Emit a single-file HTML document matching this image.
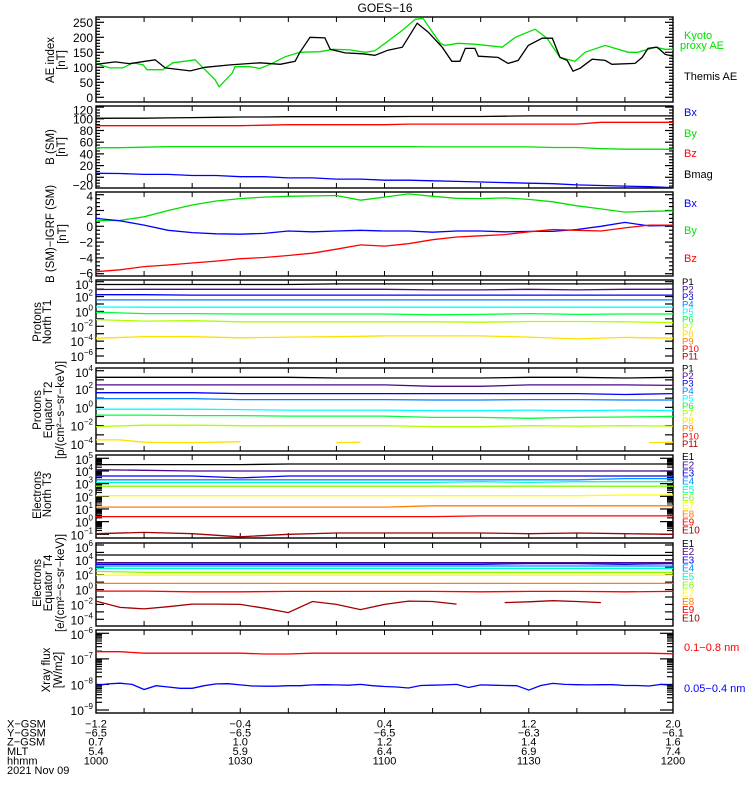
<!DOCTYPE html>
<html><head><meta charset="utf-8"><title>GOES-16</title>
<style>
html,body{margin:0;padding:0;background:#fff;}
svg{display:block;font-family:"Liberation Sans",sans-serif;}
</style></head>
<body>
<svg id="chart" xmlns="http://www.w3.org/2000/svg" width="750" height="800" viewBox="0 0 750 800">
<rect x="0" y="0" width="750" height="800" fill="#fff"/>
<text x="385" y="12" font-size="12" text-anchor="middle">GOES−16</text>
</svg>
<script>
// ---------- DATA ----------
const xTickLabelsX = ["-1.2","-0.4","0.4","1.2","2.0"];
const xTickLabelsY = ["-6.5","-6.5","-6.5","-6.3","-6.1"];
const xTickLabelsZ = ["0.7","1.0","1.2","1.4","1.6"];
const xTickLabelsMLT = ["5.4","5.9","6.4","6.9","7.4"];
const xTickLabelsHHMM = ["1000","1030","1100","1130","1200"];

// Panel 1: AE index (times in minutes after 10:00)
const themisT = [0,4,7,10.2,12.3,14.4,19.6,22.7,27.9,34.1,38.3,41.4,42.4,44.5,47.6,48.7,51.8,55.5,58,60.7,63.7,66.8,69.1,72,74,75.7,76.8,78.8,79.5,83.6,85.7,87.8,89.9,92.8,94.9,96.5,98,99.2,100.7,103.2,105.9,107.3,112.1,113.6,114.8,116.7,118.4,120];
const themisAE = [110,118,112,120,125,98,88,100,108,115,110,120,150,200,198,160,148,145,140,157,167,247,217,167,120,120,163,163,137,133,113,123,173,197,197,133,123,87,97,127,123,110,113,133,163,167,143,137];
const kyotoT = [0,0.8,2.9,5.6,7.7,9.8,10.6,13.9,16,20.6,23.3,24.8,25.6,28.3,28.9,32,34.1,36.2,39.3,42.4,46.6,49.3,52.8,56,58,63.7,66.4,68,71.6,72.6,75.3,78.8,84.5,87.2,91.3,93.8,96.5,99.6,101.7,105.9,110.7,112.7,116.3,118.4,120];
const kyotoAE = [115,108,98,98,115,108,92,92,115,125,82,58,35,80,102,102,96,110,135,150,152,160,158,150,155,223,260,263,180,173,180,177,167,200,227,197,133,120,150,173,150,150,167,160,160];
const aeTicks = [0,50,100,150,200,250];

// Panel 2: B (SM), every 5 min
const bmagSM = [100.9,101,101,101.5,102,102.5,103,103,103.6,103.6,103.6,103.6,103.6,104,104,104,104,104.5,105,105,105,105,105,105,105];
const bzSM = [88.2,88.2,88.2,88.2,88.2,88.2,88.2,89,90,90,90,90,90,91,91,91,91,91,91,91,91,94,94,94,94];
const bySM = [50.6,50.6,51.5,52.5,52.5,52.5,52.5,52.5,52.5,52.5,52.5,52.5,52.5,52.5,52,52,52,52,52,51,51,49,48,48,47.9];
const bxSM = [6.8,6.5,5,5,3,3,1,1,-1,-1,-3,-3,-5,-5,-6,-7,-8,-9,-10,-11,-13,-14,-15,-16,-17.8];
const bTicks = [-20,0,20,40,60,80,100,120];

// Panel 3: B(SM)-IGRF, every 5 min
const dBx = [1.0,0.7,0.15,-0.5,-0.8,-0.95,-1.0,-0.9,-0.6,-0.7,-0.6,-0.5,-0.6,-0.6,-0.75,-0.6,-0.6,-0.7,-0.65,-0.65,-0.4,0,0.5,0.05,0.1];
const dBy = [0.7,0.75,1.2,2.0,2.7,3.2,3.5,3.7,3.8,3.85,3.9,3.3,3.7,4.1,3.8,3.55,3.5,3.6,3.4,3.1,2.6,2.2,1.8,1.9,1.95];
const dBz = [-5.75,-5.5,-5.1,-4.9,-4.65,-4.4,-4.1,-3.95,-3.7,-3.4,-2.9,-2.35,-2.5,-2.2,-1.7,-1.35,-1.2,-1.05,-0.7,-0.4,-0.5,-0.6,-0.2,0.15,0.15];
const dBTicks = [-6,-4,-2,0,2,4];

// Panel 4: Protons North T1 (log10 flux, every 10 min)
const pN1 = [3.62,3.62,3.62,3.62,3.62,3.7,3.7,3.7,3.7,3.7,3.7,3.7,3.7];
const pN2 = [2.95,2.98,2.98,2.98,2.98,2.98,2.98,2.9,2.9,2.98,2.9,2.98,2.98];
const pN3 = [2.25,2.25,2.2,2.2,2.2,2.2,2.2,2.2,2.2,2.2,2.2,2.2,2.2];
const pN4 = [1.55,1.55,1.55,1.55,1.55,1.55,1.55,1.55,1.55,1.55,1.55,1.55,1.55];
const pN5 = [0.6,0.57,0.57,0.57,0.57,0.57,0.57,0.57,0.57,0.57,0.57,0.57,0.57];
const pN6 = [-0.1,-0.3,-0.3,-0.35,-0.35,-0.35,-0.35,-0.45,-0.4,-0.3,-0.4,-0.35,-0.35];
const pN7 = [-1.1,-1.3,-1.25,-1.4,-1.4,-1.4,-1.4,-1.4,-1.45,-1.35,-1.35,-1.4,-1.5];
const pN8 = [-3.6,-3.4,-3.4,-3.55,-3.45,-3.4,-3.3,-3.3,-3.3,-3.45,-3.7,-3.5,-3.6];
const pNTicks = [4,2,0,-2,-4,-6];

// Panel 5: Protons Equator T2
const pE1 = [3.28,3.28,3.28,3.28,3.28,3.2,3.2,3.2,3.2,3.28,3.28,3.2,3.28];
const pE2 = [2.45,2.45,2.45,2.45,2.45,2.45,2.45,2.3,2.3,2.45,2.45,2.45,2.4];
const pE3 = [1.6,1.6,1.6,1.5,1.5,1.5,1.5,1.5,1.5,1.5,1.5,1.4,1.5];
const pE4 = [0.95,0.95,0.95,0.85,0.85,0.85,0.85,0.8,0.8,0.85,0.85,0.8,0.8];
const pE5 = [-0.2,-0.2,-0.2,-0.25,-0.3,-0.3,-0.3,-0.35,-0.35,-0.3,-0.35,-0.3,-0.35];
const pE6 = [-0.85,-0.85,-0.9,-0.9,-0.95,-0.95,-0.95,-1.1,-1.1,-1.2,-1.1,-1.05,-1.0];
const pE7 = [-2.1,-1.95,-1.95,-2.0,-2.0,-2.0,-2.0,-2.1,-2.1,-2.0,-2.05,-2.0,-2.05];
const pE8 = [-3.55,-3.55,-3.8,-3.85,-3.85,-3.8,-3.75,null,null,null,-3.85,-3.8,null,null,null,null,null,null,null,null,null,null,null,-3.85,-3.8];
const pETicks = [4,2,0,-2,-4];

// Panel 6: Electrons North T3
const eN1 = [4.5,4.5,4.5,4.5,4.55,4.55,4.55,4.55,4.55,4.55,4.55,4.55,4.55];
const eN2 = [4.1,4.05,4.0,4.0,4.0,4.0,4.0,4.0,4.0,4.0,4.0,4.0,4.0];
const eN3 = [3.6,3.6,3.6,3.45,3.6,3.6,3.6,3.6,3.6,3.6,3.6,3.6,3.6];
const eN4 = [3.3,3.3,3.3,3.3,3.3,3.3,3.3,3.3,3.3,3.3,3.3,3.4,3.4];
const eN5 = [3.1,3.1,3.1,3.1,3.1,3.1,3.1,3.1,3.15,3.1,3.15,3.15,3.15];
const eN6 = [2.8,2.8,2.8,2.8,2.8,2.8,2.8,2.8,2.8,2.8,2.8,2.8,2.8];
const eN7 = [2.05,2.05,2.05,2.05,2.05,2.05,2.05,2.05,2.05,2.05,2.05,2.1,2.1];
const eN8 = [1.15,1.15,1.15,1.15,1.15,1.15,1.15,1.25,1.25,1.25,1.25,1.25,1.25];
const eN9 = [0.4,0.4,0.4,0.4,0.4,0.4,0.4,0.4,0.45,0.45,0.45,0.45,0.45];
const eN10 = [-0.95,-0.85,-0.95,-1.2,-1.0,-0.9,-0.9,-0.9,-0.9,-0.95,-0.9,-0.95,-1.0];
const eNTicks = [5,4,3,2,1,0,-1];

// Panel 7: Electrons Equator T4
const eE1 = [4.65,4.65,4.65,4.65,4.65,4.65,4.65,4.65,4.65,4.65,4.65,4.6,4.6];
const eE2 = [3.62,3.62,3.62,3.62,3.62,3.62,3.62,3.62,3.62,3.62,3.62,3.62,3.62];
const eE3 = [3.4,3.4,3.4,3.4,3.4,3.4,3.4,3.4,3.4,3.5,3.5,3.4,3.5];
const eE4 = [3.17,3.17,3.17,3.17,3.17,3.17,3.17,3.17,3.17,3.17,3.17,3.17,3.17];
const eE5 = [2.86,2.86,2.86,2.86,2.86,2.86,2.86,2.86,2.86,2.86,2.86,2.86,2.86];
const eE6 = [2.45,2.32,2.32,2.32,2.32,2.32,2.32,2.32,2.32,2.32,2.32,2.32,2.32];
const eE7 = [1.95,1.95,1.95,1.95,1.95,1.95,1.95,1.95,1.95,1.95,1.95,1.95,1.95];
const eE8 = [0.83,0.83,0.83,0.83,0.83,0.83,0.83,0.83,0.83,0.83,0.83,0.83,0.83];
const eE9 = [-0.2,-0.2,-0.3,-0.3,-0.24,-0.24,-0.24,-0.24,-0.3,-0.24,-0.24,-0.3,-0.24];
const eE10 = [-1.55,-2.4,-2.6,-2.3,-1.95,-1.95,-2.0,-2.5,-3.1,-1.6,-2.0,-2.7,-2.0,-1.55,-1.6,-1.95,null,-1.75,-1.65,-1.5,-1.6,-1.75,null,null,null];
const eETicks = [6,4,2,0,-2,-4];

// Panel 8: Xray flux (log10 W/m2)
const xrayLong = [-6.72,-6.72,-6.78,-6.78,-6.78,-6.78,-6.78,-6.81,-6.81,-6.78,-6.78,-6.78,-6.78,-6.78,-6.78,-6.78,-6.78,-6.78,-6.78,-6.78,-6.78,-6.78,-6.78,-6.78,-6.8];
const xrayShort = [-8.05,-7.98,-7.95,-8.0,-8.2,-8.05,-8.1,-8.15,-8.15,-8.05,-7.98,-7.97,-8.02,-8.06,-8.07,-8.07,-8.05,-8.05,-8.02,-8.01,-8.02,-8.03,-8.0,-8.05,-8.08,-8.1,-8.14,-8.04,-8.03,-8.02,-8.0,-8.12,-8.02,-8.03,-8.04,-8.05,-8.22,-8.04,-7.96,-8.0,-8.01,-8.02,-8.01,-8.01,-8.04,-8.04,-8.06,-8.0,-8.04];
const xrayTicks = [-6,-7,-8,-9];

// ---------- DRAWING ----------
const NS = "http://www.w3.org/2000/svg";
const svg = document.getElementById("chart");
const X0 = 96, X1 = 673;
function xs(t){ return X0 + (X1 - X0) * t / 120; }
function lin(v0, y0, v1, y1){ return v => y0 + (v - v0) * (y1 - y0) / (v1 - v0); }
function mk(tag, attrs, parent){
  const e = document.createElementNS(NS, tag);
  for (const k in attrs) e.setAttribute(k, attrs[k]);
  (parent || svg).appendChild(e);
  return e;
}
const panels = [
  {top:17, bot:102, scale: lin(0,97.3,250,22.3)},
  {top:106, bot:188, scale: lin(0,177.3,100,118.8)},
  {top:192, bot:276, scale: lin(0,226.3,4,194.7)},
  {top:280, bot:363, scale: lin(4,281.7,-6,356)},
  {top:368, bot:451, scale: lin(4,370.7,-4,444)},
  {top:455, bot:538, scale: lin(5,458.3,-1,534.3)},
  {top:543, bot:626, scale: lin(6,545,-4,619.3)},
  {top:630, bot:713, scale: lin(-6,633.3,-9,710)}
];
const defs = mk("defs", {});
panels.forEach((p, i) => {
  const cp = mk("clipPath", {id: "clip" + i}, defs);
  mk("rect", {x: X0, y: p.top, width: X1 - X0, height: p.bot - p.top}, cp);
});

function series(vals, ts, pi, color, name){
  const sc = panels[pi].scale;
  const n = vals.length;
  let segs = [], cur = [];
  for (let i = 0; i < n; i++){
    const v = vals[i];
    const t = ts ? ts[i] : 120 * i / (n - 1);
    if (v === null){ if (cur.length) segs.push(cur); cur = []; continue; }
    cur.push(xs(t).toFixed(1) + "," + sc(v).toFixed(1));
  }
  if (cur.length) segs.push(cur);
  const g = mk("g", {"clip-path": "url(#clip" + pi + ")"});
  
  
  segs.forEach(s => {
    if (s.length < 2) return;
    const pl = mk("polyline", {points: s.join(" "), fill: "none", stroke: color, "stroke-width": 1.3}, g);
    
    
  });
}

function text(x, y, str, opts){
  const t = mk("text", Object.assign({x: x, y: y, "font-size": 12, fill: "#000"}, opts || {}));
  t.textContent = str;
  return t;
}

// frames and x ticks
panels.forEach((p, i) => {
  const r = mk("rect", {x: X0, y: p.top, width: X1 - X0, height: p.bot - p.top, fill: "none", stroke: "#000", "stroke-width": 1.4});
  
  
  for (let k = 1; k < 12; k++){
    const x = X0 + (X1 - X0) * k / 12;
    const a = mk("line", {x1: x, x2: x, y1: p.bot, y2: p.bot - 5, stroke: "#000", "stroke-width": 1});
    
    
    const b = mk("line", {x1: x, x2: x, y1: p.top, y2: p.top + 5, stroke: "#000", "stroke-width": 1});
    
    
  }
});

function ytick(pi, v, len){
  const y = panels[pi].scale(v);
  const p = panels[pi];
  if (y < p.top - 0.5 || y > p.bot + 0.5) return;
  const a = mk("line", {x1: X0, x2: X0 + len, y1: y, y2: y, stroke: "#000", "stroke-width": 1.2});
  
  
  const b = mk("line", {x1: X1, x2: X1 - len, y1: y, y2: y, stroke: "#000", "stroke-width": 1.2});
  
  
}
function clampLabelY(pi, y){
  const p = panels[pi];
  return Math.min(Math.max(y, p.top + 4), p.bot - 3);
}
function linLabels(pi, ticks){
  ticks.forEach(v => {
    const y = clampLabelY(pi, panels[pi].scale(v));
    const t = text(93, y + 4.5, String(v).replace("-", "−"), {"text-anchor": "end"});
    
    
  });
}
function logLabels(pi, ticks){
  ticks.forEach(v => {
    const y = clampLabelY(pi, panels[pi].scale(v));
    const t = mk("text", {x: 93, y: y + 5, "font-size": 12, "text-anchor": "end"});
    
    
    const a = mk("tspan", {}, t); a.textContent = "10";
    const b = mk("tspan", {dy: -6, "font-size": 8}, t); b.textContent = String(v).replace("-", "−");
  });
}

// panel 1 ticks
for (let v = 0; v <= 260; v += 10) ytick(0, v, v % 50 === 0 ? 8 : 4);
linLabels(0, aeTicks);
for (let v = -20; v <= 120; v += 5) ytick(1, v, v % 20 === 0 ? 8 : 4);
linLabels(1, bTicks);
for (let v = -6; v <= 4; v += 0.5) ytick(2, v, v % 2 === 0 ? 8 : 4);
linLabels(2, dBTicks);
for (let v = -6; v <= 4; v++) ytick(3, v, 8);
logLabels(3, pNTicks);
for (let v = -4; v <= 4; v++) ytick(4, v, 8);
logLabels(4, pETicks);
for (let d = -1; d <= 5; d++){ ytick(5, d, 13); if (d < 5) for (let m = 2; m < 10; m++) ytick(5, d + Math.log10(m), 6); }
logLabels(5, eNTicks);
for (let v = -4; v <= 6; v++) ytick(6, v, 8);
logLabels(6, eETicks);
for (let d = -9; d <= -6; d++){ ytick(7, d, 13); if (d < -6) for (let m = 2; m < 10; m++) ytick(7, d + Math.log10(m), 6); }
logLabels(7, xrayTicks);

// series
series(kyotoAE, kyotoT, 0, "#00e000", "kyoto-proxy-ae-line");
series(themisAE, themisT, 0, "#000", "themis-ae-line");
series(bmagSM, null, 1, "#000", "bmag-line");
series(bzSM, null, 1, "#ff0000", "bz-line");
series(bySM, null, 1, "#00e000", "by-line");
series(bxSM, null, 1, "#0000ff", "bx-line");
series(dBy, null, 2, "#00e000", "dby-line");
series(dBx, null, 2, "#0000ff", "dbx-line");
series(dBz, null, 2, "#ff0000", "dbz-line");
const pColors = ["#000","#4b0a8c","#0000ff","#0080ff","#00ffff","#00ff40","#b0ff00","#ffe000","#ff8000","#ff0000","#a00000"];
const eColors = ["#000","#4b0a8c","#0000ff","#0090ff","#00ffc0","#80ff00","#ffff00","#ff8000","#ff0000","#a00000"];
[pN1,pN2,pN3,pN4,pN5,pN6,pN7,pN8].forEach((a,i) => series(a, null, 3, pColors[i], "protons-north-p" + (i+1)));
[pE1,pE2,pE3,pE4,pE5,pE6,pE7,pE8].forEach((a,i) => series(a, null, 4, pColors[i], "protons-equator-p" + (i+1)));
[eN1,eN2,eN3,eN4,eN5,eN6,eN7,eN8,eN9,eN10].forEach((a,i) => series(a, null, 5, eColors[i], "electrons-north-e" + (i+1)));
[eE1,eE2,eE3,eE4,eE5,eE6,eE7,eE8,eE9,eE10].forEach((a,i) => series(a, null, 6, eColors[i], "electrons-equator-e" + (i+1)));
series(xrayLong, null, 7, "#ff0000", "xray-long-line");
series(xrayShort, null, 7, "#0000ff", "xray-short-line");

// y axis titles (rotated)
function vlabel(x, y, str, name){
  const t = text(0, 0, str, {"text-anchor": "middle", "dominant-baseline": "central", transform: "translate(" + x + "," + y + ") rotate(-90)", "font-size": 11.5});
  
  
}
vlabel(51, 60, "AE index", "y-axis-title-ae");
vlabel(62, 60, "[nT]", "y-axis-unit-ae");
vlabel(51, 147, "B (SM)", "y-axis-title-bsm");
vlabel(62, 147, "[nT]", "y-axis-unit-bsm");
vlabel(51, 234, "B (SM)−IGRF (SM)", "y-axis-title-dbsm");
vlabel(63, 234, "[nT]", "y-axis-unit-dbsm");
vlabel(38, 322, "Protons", "y-axis-title-protons-north");
vlabel(48, 322, "North T1", "y-axis-subtitle-protons-north");
vlabel(38, 410, "Protons", "y-axis-title-protons-equator");
vlabel(49, 410, "Equator T2", "y-axis-subtitle-protons-equator");
vlabel(61, 410, "[p/(cm²−s−sr−keV)]", "y-axis-unit-protons");
vlabel(38, 495, "Electrons", "y-axis-title-electrons-north");
vlabel(48, 495, "North T3", "y-axis-subtitle-electrons-north");
vlabel(38, 583, "Electrons", "y-axis-title-electrons-equator");
vlabel(49, 583, "Equator T4", "y-axis-subtitle-electrons-equator");
vlabel(61, 583, "[e/(cm²−s−sr−keV)]", "y-axis-unit-electrons");
vlabel(47, 670, "Xray flux", "y-axis-title-xray");
vlabel(59, 670, "[W/m2]", "y-axis-unit-xray");

// legends
function leg(x, y, str, color, name, fs){
  const t = text(x, y, str, {fill: color, "font-size": fs || 11, "dominant-baseline": "central"});
  
  
}
leg(684, 36, "Kyoto", "#00e000", "legend-kyoto");
leg(680, 46, "proxy AE", "#00e000", "legend-proxy-ae");
leg(684, 77, "Themis AE", "#000", "legend-themis-ae");
leg(684, 113, "Bx", "#0000ff", "legend-bx");
leg(684, 134, "By", "#00e000", "legend-by");
leg(684, 154, "Bz", "#ff0000", "legend-bz");
leg(684, 175, "Bmag", "#000", "legend-bmag");
leg(684, 204, "Bx", "#0000ff", "legend-dbx");
leg(684, 231, "By", "#00e000", "legend-dby");
leg(684, 259, "Bz", "#ff0000", "legend-dbz");
for (let i = 0; i < 11; i++){
  leg(682, 282.7 + i * 7.43, "P" + (i+1), pColors[i], "legend-north-p" + (i+1), 9.5);
  leg(682, 369 + i * 7.53, "P" + (i+1), pColors[i], "legend-equator-p" + (i+1), 9.5);
}
for (let i = 0; i < 10; i++){
  leg(682, 457.7 + i * 8.15, "E" + (i+1), eColors[i], "legend-north-e" + (i+1), 10);
  leg(682, 544.3 + i * 8.3, "E" + (i+1), eColors[i], "legend-equator-e" + (i+1), 10);
}
leg(684, 648, "0.1−0.8 nm", "#ff0000", "legend-xray-long");
leg(684, 689, "0.05−0.4 nm", "#0000ff", "legend-xray-short");

// bottom ephemeris labels
const rowNames = ["X−GSM","Y−GSM","Z−GSM","MLT","hhmm"];
const rows = [xTickLabelsX, xTickLabelsY, xTickLabelsZ, xTickLabelsMLT, xTickLabelsHHMM];
const rowY = [724.3, 733.5, 742.7, 751.9, 761.5];
rows.forEach((r, ri) => {
  const l = text(7, rowY[ri], rowNames[ri], {"font-size": 11, "dominant-baseline": "central"});
  
  
  r.forEach((s, k) => {
    const t = text(X0 + (X1 - X0) * k / 4, rowY[ri], s.replace("-", "−"), {"font-size": 11, "text-anchor": "middle", "dominant-baseline": "central"});
    
    
  });
});
const dl = text(7, 771, "2021 Nov 09", {"font-size": 11, "dominant-baseline": "central"});


</script>
</body></html>
